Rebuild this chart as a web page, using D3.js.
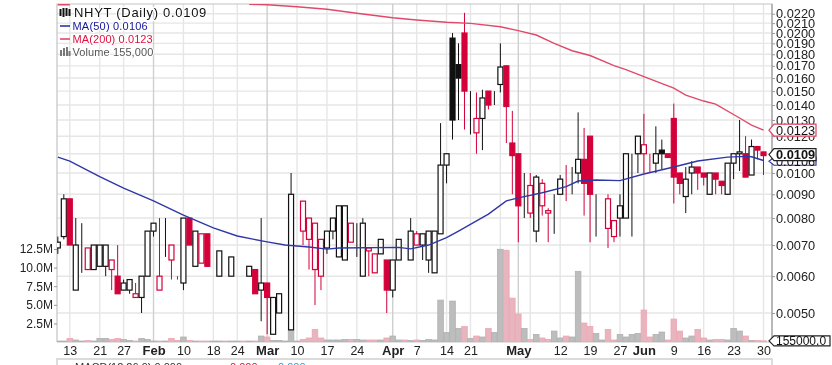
<!DOCTYPE html>
<html>
<head>
<meta charset="utf-8">
<script src="https://cdn.jsdelivr.net/npm/d3@7"></script>
<style>
    html, body { margin: 0; padding: 0; background: #fff; overflow: hidden; }
    /* the source is a slightly soft screenshot */
    svg { display: block; font-family: "Liberation Sans", sans-serif; filter: blur(.4px); }
</style>
</head>
<body>
<svg id="chart" width="832" height="365"></svg>
<script>
// prices are written in 1/10000 of a dollar, first bar is two sessions before Jan 13
const opens = [
    69,73,88,56,70,62,62,63,63,62, 60,56,56,54,54,60,75,56,80,65,
    59,58,80,63,64,74,63,60,60,60, 66,58,60,62,56,58,45,50,55,46,
    90,75,72,62,60,69,75,66,65,71, 78,60,68,61,67,65,56,65,70,65,
    70,70,65,61,74,104,195,171,200,150, 122,131,150,145,155,170,116,110,100,82,
    75,85,82,90,90,96,100,100,107,120, 90,90,76,73,80,80,110,110,110,110,
    105,112,110,131,100,89,100,103,100,90, 100,96,90,105,110,110,99,114,111
];
const highs = [
    73,90,88,80,78,69,70,70,70,65, 70,59,59,58,60,75,78,80,80,70,
    60,80,80,75,74,74,63,68,60,66, 66,58,63,62,80,58,54,55,55,100,
    90,87,80,78,72,75,80,85,85,78, 78,80,69,67,72,65,65,72,70,80,
    75,74,75,75,128,110,200,190,221,150, 149,151,150,150,190,170,136,110,100,100,
    99,97,84,90,99,104,103,135,125,120, 90,90,90,79,90,110,110,120,134,110,
    126,118,110,141,100,103,106,103,100,100, 100,96,105,110,130,120,118,114,111
];
const lows = [
    67,72,70,56,61,62,62,63,60,56, 55,56,55,54,50,60,73,56,66,59,
    59,56,70,63,64,63,63,60,60,60, 66,58,60,55,48,45,45,50,55,46,
    90,70,62,52,56,67,72,66,65,71, 66,60,60,61,67,50,54,65,70,65,
    70,65,61,61,74,95,118,130,124,121, 110,112,137,140,149,116,90,71,80,80,
    71,81,71,74,90,87,90,95,81,71, 73,90,69,71,73,80,73,100,100,100,
    100,102,108,86,90,82,90,92,94,90, 90,90,90,97,101,98,99,107,99
];
const closes = [
    71,88,70,70,70,69,70,70,70,65, 55,58,59,55,60,75,78,60,80,70,
    59,80,70,75,74,63,63,68,60,66, 66,58,63,55,58,54,54,55,55,90,
    90,87,80,78,72,75,80,85,85,78, 78,78,69,67,72,56,65,72,70,75,
    74,74,75,75,104,110,130,160,150,150, 131,145,140,145,169,139,109,85,100,94,
    98,95,83,90,97,96,100,107,95,90, 90,90,88,79,85,110,110,120,115,110,
    110,110,108,98,95,97,103,100,98,100, 97,94,105,110,111,98,114,112,109
];
// millions of shares
const volumes = [
    .13,.13,.47,.27,.13,.2,.13,.47,.47,.33, .47,.33,.2,.13,.47,.33,.13,.13,.13,.47,
    .2,.67,.2,.13,.13,.13,.13,.13,.13,.13, .13,.13,.13,.13,.8,.67,.2,.2,.13,1.6,
    .13,.33,.54,1.68,.54,.27,.27,.27,.33,.33, .33,.27,.27,.27,.27,.54,.8,.27,.27,.2,
    .27,.2,.33,.27,5.63,1.27,5.5,1.81,2.08,.47, .8,.67,1.81,1.27,12.46,12.33,5.9,3.75,1.81,.33,
    1.0,.54,.33,1.47,.54,.8,.67,9.5,2.55,2.08, 1.14,.27,1.68,.27,1.0,.67,1.0,1.14,4.29,.67,
    1.0,1.34,.27,3.08,1.47,.54,.8,1.68,.54,.27, .33,.33,.27,1.81,1.47,.8,.2,.2,.155
];
const firstBar = -2;

const ma50Sessions = [-2,0,5,9,14,19,24,28,33,36,40,43,45,55,57,60,63,65,70,73,75,79,83,85,88,92,96,101,105,110,113,114,116];
const ma50Values = [.01082,.01061,.00982,.00928,.00871,.00812,.00762,.00732,.00711,.007,.00693,.00686,.0069,.00692,.00687,.007,.00726,.0075,.00816,.00871,.00884,.00907,.00935,.00961,.00966,.00963,.00995,.0103,.01061,.01082,.01086,.01084,.01064];
const ma200Sessions = [-2,0,1,30,33,38,43,48,54,58,63,67,72,75,78,81,84,87,91,93,96,101,103,106,108,112,114,116];
const ma200Values = [.023,.023,null,.02305,.023,.02278,.02249,.02205,.02157,.02133,.02109,.02098,.02063,.02023,.0198,.01899,.01832,.01789,.01701,.01669,.01611,.01523,.01471,.01428,.01407,.01313,.01268,.01237];

const priceTicks = [.022,.021,.02,.019,.018,.017,.016,.015,.014,.013,.012,.011,.01,.009,.008,.007,.006,.005];
const volumeTicks = [2.5,5,7.5,10,12.5];
const volumeLabels = ["2.5M","5.0M","7.5M","10.0M","12.5M"];

const dateSessions = [0,5,9,14,19,24,28,33,38,43,48,54,58,63,67,72,75,77,82,87,92,96,101,106,111,116];
const dateLabels = ["13","21","27","Feb","10","18","24","Mar","10","17","24","Apr","7","14","21","","May","","12","19","27","Jun","9","16","23","30"];
const monthLabels = ["Feb","Mar","Apr","May","Jun"];

const lastClose = .0109, lastMa50 = .0106, lastMa200 = .0123, lastVolume = .155;

const red = "#d4003a", maBlue = "#2f37a6", maRed = "#e04a6a";
const plot = {left: 57, right: 772, top: 4, bottom: 342};

const svg = d3.select("#chart");

const x = d3.scaleLinear().domain([0, 116]).range([69.8, 763.5]);
const priceY = d3.scaleLog().domain([.005, .01]).range([313, 173]);
const volumeY = d3.scaleLinear().domain([0, 12.5]).range([plot.bottom, 249]);

const bars = closes.map((c, i) => ({
    session: i + firstBar,
    open: opens[i] / 10000,
    high: highs[i] / 10000,
    low: lows[i] / 10000,
    close: c / 10000,
    volume: volumes[i],
    down: i > 0 && c < closes[i - 1]
}));

svg.append("defs").append("clipPath").attr("id", "plot-clip")
    .append("rect")
    .attr("x", plot.left)
    .attr("y", plot.top)
    .attr("width", plot.right - plot.left)
    .attr("height", plot.bottom - plot.top);

drawGrid();
drawVolume();
drawCandles();
drawAverages();
drawAxes();
drawLegend();
drawTags();

function drawGrid() {
    const grid = svg.append("g").attr("id", "grid").attr("fill", "none");
    grid.selectAll("line.h")
        .data(priceTicks)
        .join("line")
        .attr("class", "h")
        .attr("x1", plot.left)
        .attr("x2", plot.right)
        .attr("y1", d => priceY(d))
        .attr("y2", d => priceY(d))
        .attr("stroke", "#e6e6e6")
        .attr("stroke-width", 1.4);
    grid.selectAll("line.v")
        .data(dateSessions.map((s, i) => ({session: s, label: dateLabels[i]})))
        .join("line")
        .attr("class", "v")
        .attr("x1", d => x(d.session))
        .attr("x2", d => x(d.session))
        .attr("y1", plot.top)
        .attr("y2", plot.bottom)
        .attr("stroke", d => monthLabels.includes(d.label) ? "#cfcfcf" : "#e6e6e6")
        .attr("stroke-width", 1.4);
    // frame of the price panel and the top of the panel below it
    grid.append("path")
        .attr("d", `M${plot.left},${plot.bottom}V${plot.top}H${plot.right}V${plot.bottom}H${plot.left}`)
        .attr("stroke", "#c4c4c4")
        .attr("stroke-width", 1.2);
    grid.append("path")
        .attr("d", `M${plot.left},365V359H${plot.right}V365`)
        .attr("stroke", "#cfcfcf")
        .attr("stroke-width", 1.4);
}

function drawVolume() {
    svg.append("g")
        .attr("id", "volume")
        .attr("clip-path", "url(#plot-clip)")
        .selectAll("rect")
        .data(bars)
        .join("rect")
        .attr("x", d => x(d.session) - 2.8)
        .attr("width", 5.6)
        .attr("y", d => volumeY(d.volume))
        .attr("height", d => volumeY(0) - volumeY(d.volume))
        .attr("fill", d => d.down ? "#e8b4bd" : "#bdbdbd")
        .attr("stroke", d => d.down ? "#eda6b4" : "#b0b0b0")
        .attr("stroke-width", .8);
}

function drawCandles() {
    const candle = svg.append("g")
        .attr("id", "candles")
        .attr("clip-path", "url(#plot-clip)")
        .selectAll("g")
        .data(bars)
        .join("g")
        .attr("stroke", d => d.down ? red : "#111");

    candle.append("line")
        .attr("x1", d => x(d.session))
        .attr("x2", d => x(d.session))
        .attr("y1", d => priceY(d.high))
        .attr("y2", d => priceY(d.low))
        .attr("stroke-width", 1);

    // open == close draws as a flat dash
    candle.append("rect")
        .attr("x", d => x(d.session) - 2.5)
        .attr("width", 5)
        .attr("y", d => priceY(Math.max(d.open, d.close)))
        .attr("height", d => Math.abs(priceY(d.open) - priceY(d.close)))
        .attr("stroke-width", 1.2)
        .attr("fill", d => d.close < d.open ? (d.down ? red : "#111") : "#fff");
}

function drawAverages() {
    const line = d3.line()
        .defined(d => d[1] !== null)
        .x(d => x(d[0]))
        .y(d => priceY(d[1]));
    const averages = svg.append("g")
        .attr("id", "averages")
        .attr("fill", "none")
        .attr("stroke-width", 1.4)
        .attr("clip-path", "url(#plot-clip)");
    averages.append("path")
        .attr("d", line(d3.zip(ma200Sessions, ma200Values)))
        .attr("stroke", maRed);
    averages.append("path")
        .attr("d", line(d3.zip(ma50Sessions, ma50Values)))
        .attr("stroke", maBlue);
}

function drawAxes() {
    const right = svg.append("g")
        .attr("transform", `translate(${plot.right},0)`)
        .call(d3.axisRight(priceY)
            .tickValues(priceTicks)
            .tickFormat(d3.format(".4f"))
            .tickSize(3)
            .tickPadding(1));
    const left = svg.append("g")
        .attr("transform", `translate(${plot.left},0)`)
        .call(d3.axisLeft(volumeY)
            .tickValues(volumeTicks)
            .tickFormat((d, i) => volumeLabels[i])
            .tickSize(3)
            .tickPadding(1));
    const bottom = svg.append("g")
        .attr("transform", `translate(0,${plot.bottom})`)
        .call(d3.axisBottom(x)
            .tickValues(dateSessions)
            .tickFormat((d, i) => dateLabels[i])
            .tickSize(0)
            .tickPadding(4));

    right.select(".domain").attr("d", `M0,${plot.top}V${plot.bottom}`).attr("stroke", "#aaa").attr("stroke-width", 1.4);
    left.select(".domain").remove();
    bottom.select(".domain").remove();
    right.selectAll("line").attr("stroke", "#999");
    left.selectAll("line").attr("stroke", "#999");

    svg.selectAll(".tick text")
        .attr("font-family", "Liberation Sans, sans-serif")
        .attr("fill", "#222");
    right.selectAll(".tick text").attr("font-size", 12.8);
    left.selectAll(".tick text").attr("font-size", 12);
    bottom.selectAll(".tick text")
        .attr("font-size", (d, i) => monthLabels.includes(dateLabels[i]) ? 13 : 12.5)
        .attr("font-weight", (d, i) => monthLabels.includes(dateLabels[i]) ? "bold" : "normal");
}

function drawLegend() {
    const legend = svg.append("g").attr("id", "legend");
    const rows = [
        {text: "NHYT (Daily) 0.0109", y: 17, x: 74, size: 13, color: "#111", spacing: .7},
        {text: "MA(50) 0.0106", y: 30, x: 72.5, size: 11, color: "#14149a", spacing: .2},
        {text: "MA(200) 0.0123", y: 43, x: 72.5, size: 11, color: "#e0103f", spacing: .1},
        {text: "Volume 155,000", y: 56, x: 72.5, size: 11, color: "#555", spacing: .1}
    ];
    legend.selectAll("text")
        .data(rows)
        .join("text")
        .attr("x", d => d.x)
        .attr("y", d => d.y)
        .attr("font-size", d => d.size)
        .attr("letter-spacing", d => d.spacing)
        .attr("fill", d => d.color)
        .attr("stroke", "#fff")
        .attr("stroke-width", 2)
        .attr("paint-order", "stroke")
        .text(d => d.text);

    // small marks in front of the labels
    legend.append("path").attr("d", "M60.5,9V16M63.5,8V17M66.5,8V16M69.5,9V16").attr("stroke", "#111").attr("stroke-width", 2);
    legend.append("path").attr("d", "M60,26H70").attr("stroke", maBlue).attr("stroke-width", 1.6);
    legend.append("path").attr("d", "M60,39H70").attr("stroke", maRed).attr("stroke-width", 1.6);
    legend.append("path").attr("d", "M61,56V50M64,56V48M67,56V47M69.5,56V51").attr("stroke", "#777").attr("stroke-width", 2);

    const macd = svg.append("g").attr("font-size", 11);
    macd.append("text").attr("x", 75).attr("y", 371).attr("fill", "#333").text("MACD(12,26,9) 0.000,");
    macd.append("text").attr("x", 230).attr("y", 371).attr("fill", "#e0103f").text("0.000,");
    macd.append("text").attr("x", 278).attr("y", 371).attr("fill", "#2a9fd8").text("0.000");
}

function drawTags() {
    const tags = [
        {y: priceY(lastMa50), right: 816, h: 8, size: 12.8, text: d3.format(".4f")(lastMa50), stroke: maBlue, weight: "normal"},
        {y: priceY(lastMa200) - 1, right: 816, h: 12, size: 12.8, text: d3.format(".4f")(lastMa200), stroke: "#e0405f", weight: "normal"},
        {y: priceY(lastClose) - 1, right: 816, h: 12, size: 12.8, text: d3.format(".4f")(lastClose), stroke: "#222", weight: "bold"},
        {y: volumeY(lastVolume), right: 830, h: 10, size: 12, text: d3.format(".1f")(lastVolume * 1e6), stroke: "#222", weight: "normal"}
    ];
    const tag = svg.append("g")
        .attr("id", "tags")
        .selectAll("g")
        .data(tags)
        .join("g")
        .attr("transform", d => `translate(${plot.right - 3},${d.y})`);

    tag.append("path")
        .attr("d", d => `M0,0L5,${-d.h / 2}H${d.right - plot.right + 3}V${d.h / 2}H5Z`)
        .attr("fill", "#fff")
        .attr("stroke", d => d.stroke)
        .attr("stroke-width", 1.2);

    tag.append("text")
        .attr("x", 7)
        .attr("y", 4.5)
        .attr("font-size", d => d.size)
        .attr("font-weight", d => d.weight)
        .attr("fill", "#111")
        .text(d => d.text);
}
</script>
</body>
</html>
